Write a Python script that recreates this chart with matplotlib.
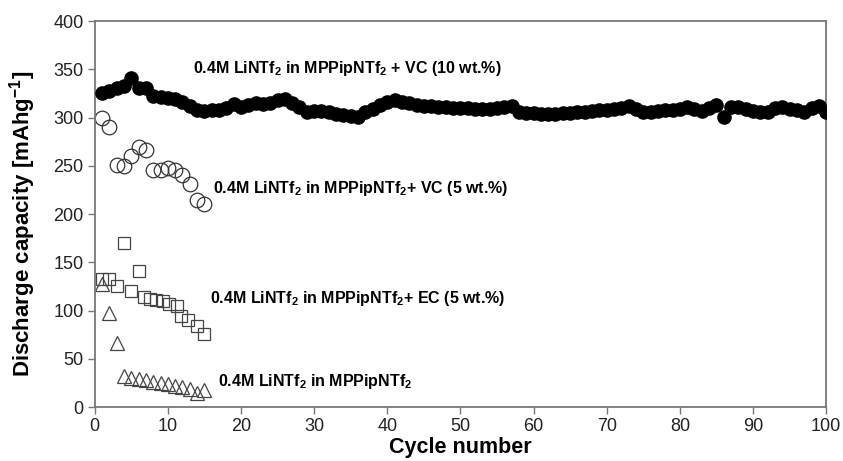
import matplotlib
matplotlib.use("Agg")
import matplotlib.pyplot as plt

plt.rcParams['font.family'] = ['Liberation Sans', 'DejaVu Sans']
plt.rcParams['mathtext.fontset'] = 'custom'
plt.rcParams['mathtext.rm'] = 'Liberation Sans'
plt.rcParams['mathtext.bf'] = 'Liberation Sans:bold'
plt.rcParams['mathtext.it'] = 'Liberation Sans:italic'

# Data
cycles_vc10 = list(range(1, 101))
cap_vc10 = [326, 328, 331, 333, 341, 331, 331, 322, 321, 320,
            319, 316, 312, 308, 307, 308, 308, 310, 314, 311,
            313, 315, 314, 315, 318, 319, 315, 311, 306, 307,
            307, 306, 304, 303, 302, 301, 306, 309, 313, 316,
            318, 316, 315, 313, 312, 312, 311, 311, 310, 310,
            310, 309, 309, 309, 310, 311, 312, 306, 305, 305,
            304, 304, 304, 305, 305, 306, 306, 307, 308, 308,
            309, 310, 312, 309, 306, 306, 307, 308, 308, 309,
            311, 309, 307, 310, 313, 301, 311, 311, 309, 307,
            306, 306, 310, 311, 309, 308, 306, 310, 312, 306]

cycles_vc5 = list(range(1, 16))
cap_vc5 = [300, 290, 251, 250, 260, 270, 267, 246, 246, 248, 246, 241, 231, 215, 210]

cycles_ec5 = [1, 2, 3, 4, 5, 6, 6.8, 7.6, 8.4, 9.3, 10.2, 11.2, 11.8, 12.8, 14, 15]
cap_ec5 = [133, 133, 125, 170, 120, 141, 114, 112, 111, 110, 107, 105, 94, 90, 84, 76]

cycles_base = list(range(1, 16))
cap_base = [128, 97, 66, 32, 30, 29, 28, 26, 25, 24, 22, 21, 19, 15, 18]

labels = [r'0.4M LiNTf$_\mathbf{2}$ in MPPipNTf$_\mathbf{2}$ + VC (10 wt.%)',
          r'0.4M LiNTf$_\mathbf{2}$ in MPPipNTf$_\mathbf{2}$+ VC (5 wt.%)',
          r'0.4M LiNTf$_\mathbf{2}$ in MPPipNTf$_\mathbf{2}$+ EC (5 wt.%)',
          r'0.4M LiNTf$_\mathbf{2}$ in MPPipNTf$_\mathbf{2}$']

fig = plt.figure(figsize=(8.43, 4.61), dpi=100)
ax = fig.add_axes([0.1123, 0.117, 0.980 - 0.1123, 0.954 - 0.117])

ax.plot(cycles_vc10, cap_vc10, 'o', color='black', ms=9.5, mec='black', zorder=4)
ax.plot(cycles_vc5, cap_vc5, 'o', mfc='none', mec='#333333', ms=10.5, mew=0.9)
ax.plot(cycles_ec5, cap_ec5, 's', mfc='none', mec='#444444', ms=9, mew=0.9)
ax.plot(cycles_base, cap_base, '^', mfc='none', mec='#444444', ms=9.5, mew=0.9)

fs = 11.5
ax.text(13.4, 351, labels[0], fontsize=fs, fontweight='bold', va='center', ha='left')
ax.text(16.2, 227, labels[1], fontsize=fs, fontweight='bold', va='center', ha='left')
ax.text(15.8, 113, labels[2], fontsize=fs, fontweight='bold', va='center', ha='left')
ax.text(16.9, 27, labels[3], fontsize=fs, fontweight='bold', va='center', ha='left')

ax.set_xlim(0, 100)
ax.set_ylim(0, 400)
ax.set_xticks(range(0, 101, 10))
ax.set_yticks(range(0, 401, 50))

for s in ax.spines.values():
    s.set_color('#777777')
    s.set_linewidth(1.3)

ax.tick_params(axis='both', direction='out', length=5, width=1, color='#777777',
               labelsize=13, labelcolor='#222222', pad=3)

ax.set_xlabel('Cycle number', fontsize=15.5, fontweight='bold', labelpad=1)
ax.set_ylabel(r'Discharge capacity [mAhg$^{\mathbf{-1}}$]', fontsize=16, fontweight='bold')
ax.yaxis.set_label_coords(-0.078, 0.474)

fig.savefig('out.png', dpi=100)
